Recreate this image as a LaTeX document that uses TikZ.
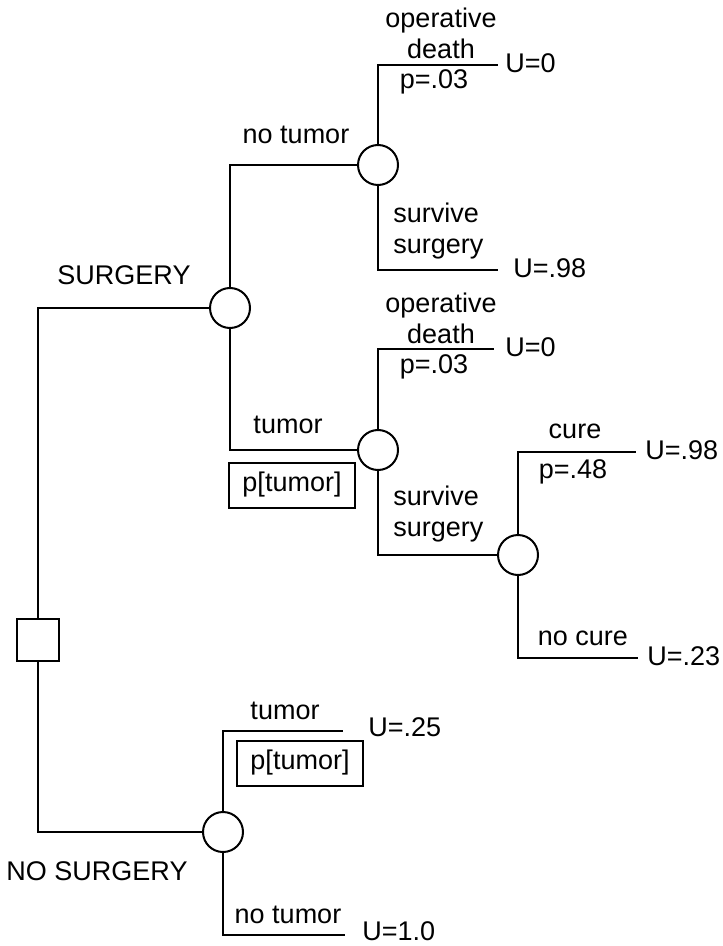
\documentclass[tikz,border=0pt]{standalone}
\usepackage{fontspec}
\setmainfont{Liberation Sans}
\usetikzlibrary{positioning}

\begin{document}
\begin{tikzpicture}[
    x=0.5pt, y=-0.5pt,
    % Nodi di decisione e di caso
    decision/.style={
        rectangle,
        draw=black,
        line width=1pt,
        minimum size=21pt,
        inner sep=0pt
    },
    chance/.style={
        circle,
        draw=black,
        line width=1pt,
        minimum size=20pt,
        inner sep=0pt
    },
    % Rami dell'albero
    branch/.style={line width=1pt, color=black},
    % Etichette
    txt/.style={font=\fontsize{13.5}{15.5}\selectfont, align=center, inner sep=0pt},
    util/.style={txt, anchor=west},
    probbox/.style={
        txt,
        draw=black,
        line width=1pt,
        minimum width=63pt,
        minimum height=22.5pt
    }
]

\useasboundingbox (0,0) rectangle (722,946);

% Nodo di decisione
\node[decision] (dec) at (38,640) {};

% Nodi di caso
\node[chance] (surg) at (230,308) {};
\node[chance] (nt) at (378,165) {};
\node[chance] (tu) at (378,450) {};
\node[chance] (cure) at (518,555) {};
\node[chance] (nosurg) at (223,832) {};

% Estremi dei rami
\coordinate (ntdeath) at (498,65);
\coordinate (ntsurv) at (498,270);
\coordinate (tudeath) at (494,349);
\coordinate (cureyes) at (636,452);
\coordinate (cureno) at (638,658);
\coordinate (nstumor) at (343,731);
\coordinate (nsnotumor) at (345,935);

% Rami
\draw[branch] (dec.north) |- (surg.west);
\draw[branch] (dec.south) |- (nosurg.west);
\draw[branch] (surg.north) |- (nt.west);
\draw[branch] (surg.south) |- (tu.west);
\draw[branch] (nt.north) |- (ntdeath);
\draw[branch] (nt.south) |- (ntsurv);
\draw[branch] (tu.north) |- (tudeath);
\draw[branch] (tu.south) |- (cure.west);
\draw[branch] (cure.north) |- (cureyes);
\draw[branch] (cure.south) |- (cureno);
\draw[branch] (nosurg.north) |- (nstumor);
\draw[branch] (nosurg.south) |- (nsnotumor);

% Etichette delle scelte
\node[txt] (lsurg) at (124,275) {SURGERY};
\node[txt] (lnosurg) at (97,871) {NO SURGERY};

% Ramo SURGERY, no tumor
\node[txt] (lnt) at (296,135) {no tumor};
\node[txt] (lntdeath) at (441,33) {operative\\death};
\node[txt] (pntdeath) at (434,82) {p=.03};
\node[txt, anchor=west, align=left] (lntsurv) at (393,231) {survive\\surgery};

% Ramo SURGERY, tumor
\node[txt] (ltu) at (288,425) {tumor};
\node[probbox] (ptu) at (292,485) {p[tumor]};
\node[txt] (ltudeath) at (441,318) {operative\\death};
\node[txt] (ptudeath) at (434,367) {p=.03};
\node[txt, anchor=west, align=left] (ltusurv) at (393,514) {survive\\surgery};
\node[txt] (lcure) at (575,431) {cure};
\node[txt] (pcure) at (573,472) {p=.48};
\node[txt] (lnocure) at (583,638) {no cure};

% Ramo NO SURGERY
\node[txt] (lnstumor) at (285,711) {tumor};
\node[probbox] (pnstumor) at (300,763) {p[tumor]};
\node[txt] (lnsnotumor) at (288,915) {no tumor};

% Utilita'
\node[util] (u1) at (505,63) {U=0};
\node[util] (u2) at (513,268) {U=.98};
\node[util] (u3) at (505,347) {U=0};
\node[util] (u4) at (645,450) {U=.98};
\node[util] (u5) at (647,656) {U=.23};
\node[util] (u6) at (368,727) {U=.25};
\node[util] (u7) at (362,931) {U=1.0};

\end{tikzpicture}
\end{document}
